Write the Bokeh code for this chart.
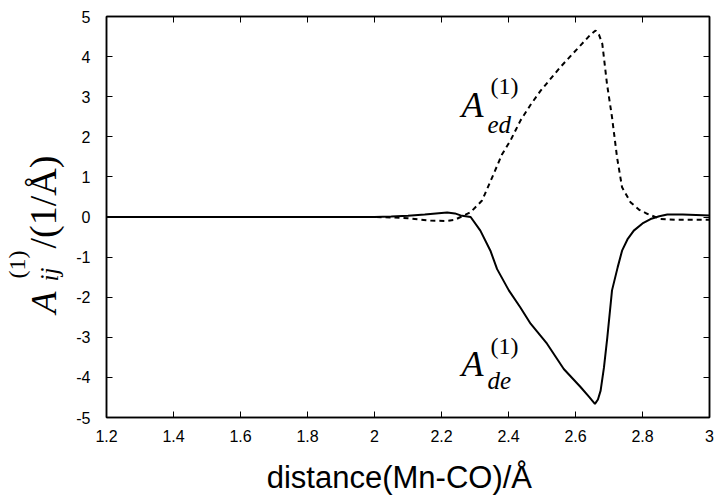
import math
from bokeh.plotting import figure
from bokeh.layouts import row
from bokeh.models import Range1d, LinearAxis, FixedTicker, Label
from bokeh.embed import file_html
from bokeh.resources import INLINE

# ---- data ----
x_de = [1.2, 1.4, 1.6, 1.8, 2.0, 2.05, 2.1, 2.15, 2.2, 2.217, 2.24, 2.257, 2.287,
        2.316, 2.346, 2.366, 2.401, 2.435, 2.466, 2.515, 2.565, 2.615, 2.64, 2.658,
        2.667, 2.675, 2.685, 2.695, 2.709, 2.726, 2.739, 2.755, 2.774, 2.8, 2.824,
        2.85, 2.874, 2.92, 2.96, 3.0]
a_de = [0.0, 0.0, 0.0, 0.0, 0.0, 0.01, 0.03, 0.06, 0.1, 0.11, 0.09, 0.04, 0.0,
        -0.34, -0.84, -1.3, -1.83, -2.25, -2.66, -3.16, -3.79, -4.24, -4.48, -4.66,
        -4.55, -4.33, -3.75, -3.0, -1.83, -1.25, -0.84, -0.56, -0.34, -0.16, -0.05,
        0.02, 0.06, 0.06, 0.05, 0.04]

x_ed = [1.2, 1.4, 1.6, 1.8, 2.0, 2.05, 2.1, 2.167, 2.217, 2.24, 2.257, 2.287, 2.321,
        2.356, 2.38, 2.406, 2.436, 2.466, 2.496, 2.555, 2.615, 2.645, 2.66, 2.67,
        2.68, 2.694, 2.709, 2.724, 2.739, 2.764, 2.79, 2.814, 2.854, 2.9, 2.95, 3.0]
a_ed = [0.0, 0.0, 0.0, 0.0, 0.0, -0.01, -0.03, -0.09, -0.1, -0.07, 0.0, 0.12, 0.41,
        1.08, 1.55, 1.91, 2.41, 2.8, 3.15, 3.74, 4.28, 4.55, 4.65, 4.55,
        4.32, 3.32, 2.49, 1.49, 0.74, 0.37, 0.18, 0.08, -0.05, -0.07, -0.07, -0.07]

x_ticks = [1.2, 1.4, 1.6, 1.8, 2.0, 2.2, 2.4, 2.6, 2.8, 3.0]
x_tick_labels = ["1.2", "1.4", "1.6", "1.8", "2", "2.2", "2.4", "2.6", "2.8", "3"]
y_ticks = [-5, -4, -3, -2, -1, 0, 1, 2, 3, 4, 5]
y_tick_labels = ["-5", "-4", "-3", "-2", "-1", "0", "1", "2", "3", "4", "5"]

x_label = "distance(Mn-CO)/Å"

# ---- layout geometry (page pixels) ----
W, H = 716, 498
YLAB_W = 66
FL, FR, FT, FB = 106.0, 709.0, 16.0, 417.0

TICKFONT = "Liberation Sans"
SERIF = "Liberation Serif"

# ---- main figure ----
p = figure(width=W - YLAB_W, height=H, output_backend="svg", toolbar_location=None,
           x_range=Range1d(1.2, 3.0), y_range=Range1d(-5, 5),
           min_border_left=int(FL - YLAB_W), min_border_right=int(W - FR),
           min_border_top=int(FT), min_border_bottom=int(H - FB))
p.background_fill_color = "white"
p.border_fill_color = "white"
p.outline_line_color = "black"
p.outline_line_width = 1.5
p.xgrid.visible = False
p.ygrid.visible = False

xa = p.xaxis[0]
xa.ticker = FixedTicker(ticks=x_ticks)
xa.major_label_overrides = {t: l for t, l in zip(x_ticks, x_tick_labels)}
ya = p.yaxis[0]
ya.ticker = FixedTicker(ticks=y_ticks)
ya.major_label_overrides = {t: l for t, l in zip(y_ticks, y_tick_labels)}

for ax in (xa, ya):
    ax.axis_line_color = "black"
    ax.axis_line_width = 1.5
    ax.major_tick_in = 6
    ax.major_tick_out = 0
    ax.major_tick_line_color = "black"
    ax.major_tick_line_width = 1
    ax.minor_tick_line_color = None
    ax.major_label_text_font = TICKFONT
    ax.major_label_text_font_size = "16px"
    ax.major_label_text_color = "black"

xa.major_label_standoff = 12
ya.major_label_standoff = 16

# x-axis label (two no-break spaces nudge the centred text slightly left)
xa.axis_label = x_label + "\u00a0\u00a0"
xa.axis_label_text_font = TICKFONT
xa.axis_label_text_font_size = "31px"
xa.axis_label_text_font_style = "normal"
xa.axis_label_text_color = "black"
xa.axis_label_standoff = 15

# mirrored axes with inner ticks only
top = LinearAxis(ticker=FixedTicker(ticks=x_ticks),
                 major_label_overrides={t: "" for t in x_ticks},
                 major_tick_in=6, major_tick_out=0, minor_tick_line_color=None,
                 axis_line_color="black", axis_line_width=1.5, major_label_standoff=0)
right = LinearAxis(ticker=FixedTicker(ticks=y_ticks),
                   major_label_overrides={t: "" for t in y_ticks},
                   major_tick_in=6, major_tick_out=0, minor_tick_line_color=None,
                   axis_line_color="black", axis_line_width=1.5, major_label_standoff=0)
p.add_layout(top, "above")
p.add_layout(right, "right")

# ---- curves ----
p.line(x_ed, a_ed, line_color="black", line_width=2, line_dash="5 4")
p.line(x_de, a_de, line_color="black", line_width=2)

# ---- curve labels (pixel positions mapped into data space) ----
XPX = (FR - FL) / 1.8
YPX = (FB - FT) / 10.0
Y0 = FT + 5 * YPX


def dx(px):
    return 1.2 + (px - FL) / XPX


def dy(py):
    return (Y0 - py) / YPX


def lab(fig, x, y, text, size, style, angle=0.0):
    fig.add_layout(Label(x=x, y=y, text=text, text_font=SERIF,
                         text_font_size=f"{size}px", text_font_style=style,
                         text_color="black", text_align="left",
                         text_baseline="alphabetic", angle=angle))


# A_ed
lab(p, dx(461), dy(104), "A", 36, "italic")
lab(p, dx(490), dy(85), "(1)", 24, "normal")
lab(p, dx(487), dy(124), "ed", 25, "italic")
# A_de
lab(p, dx(461), dy(363), "A", 36, "italic")
lab(p, dx(490), dy(345), "(1)", 24, "normal")
lab(p, dx(487), dy(380), "de", 25, "italic")

# ---- y-axis label panel (frame aligned with the main frame) ----
yl = figure(width=YLAB_W, height=H, output_backend="svg", toolbar_location=None,
            x_range=Range1d(0, YLAB_W), y_range=Range1d(-5, 5),
            x_axis_type=None, y_axis_type=None,
            min_border_left=0, min_border_right=0,
            min_border_top=int(FT), min_border_bottom=int(H - FB))
yl.outline_line_color = None
yl.background_fill_color = "white"
yl.border_fill_color = "white"
yl.xgrid.visible = False
yl.ygrid.visible = False

R = math.pi / 2
lab(yl, 43, dy(313), "A", 36, "italic", R)
lab(yl, 16, dy(278), "(1)", 24, "normal", R)
lab(yl, 49, dy(281), "ij", 25, "italic", R)
lab(yl, 42, dy(248), "/(1/Å)", 38, "normal", R)

layout = row(yl, p)
open("out.html", "w").write(file_html(layout, INLINE))
